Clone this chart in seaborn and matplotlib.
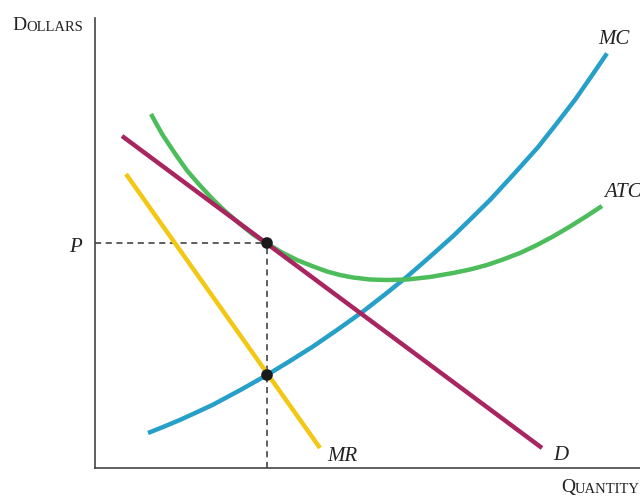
import numpy as np
import pandas as pd
import matplotlib
matplotlib.use('Agg')
import matplotlib.pyplot as plt
import seaborn as sns

# Monopolistic competition: long-run equilibrium (P = ATC at the tangency)
# coordinates are in arbitrary "chart units"

# marginal cost
mc_q = [53, 69, 85, 101, 118, 145, 172, 195, 218, 243, 268, 290,
        312, 335, 358, 376, 395, 419, 443, 461, 480, 496, 512]
mc_cost = [35, 41.4, 48.1, 55.4, 63.3, 77.8, 93, 107, 121.5, 138.7, 156.5, 173.6,
           191.3, 211.3, 231.8, 249.3, 268, 294.1, 320.8, 343.6, 368.2, 391.2, 414.6]

# average total cost
atc_q = [56, 62, 68, 80, 92, 105, 118, 131, 145, 158, 172, 187, 202, 217, 232, 245,
         258, 275, 292, 312, 335, 358, 375, 392, 408, 425, 441, 458, 475, 491, 507]
atc_cost = [354, 343, 332.5, 314.5, 297.5, 282.5, 268.5, 256, 244, 233.5, 224.5, 215.5,
            208, 202, 196.5, 193, 190.5, 188.5, 188, 188.5, 191, 195, 198.5, 203,
            208.5, 215, 222.5, 231.5, 241.5, 251.5, 262]

# demand and marginal revenue (straight lines)
d_q = [27, 447]
d_price = [332, 20]
mr_q = [31, 225]
mr_rev = [294, 20]

# equilibrium
q_star = 172
p_star = 225
mc_star = 93

col_mc = '#26a0c8'
col_atc = '#4dbd5c'
col_d = '#a8255f'
col_mr = '#f3c814'

sns.set_style('white')
plt.rcParams['font.family'] = ['Liberation Serif', 'DejaVu Serif']

fig = plt.figure(figsize=(6.4, 4.98), dpi=100)
ax = fig.add_axes([95 / 640, 30 / 498, 545 / 640, 450 / 498])

line_kw = dict(sort=False, estimator=None, lw=3.2, ax=ax,
               solid_capstyle='butt', solid_joinstyle='round')
sns.lineplot(x=mc_q, y=mc_cost, color=col_mc, **line_kw)
sns.lineplot(x=atc_q, y=atc_cost, color=col_atc, **line_kw)
sns.lineplot(x=d_q, y=d_price, color=col_d, **line_kw)
sns.lineplot(x=mr_q, y=mr_rev, color=col_mr, **line_kw)

# dashed guides
ax.plot([0, q_star], [p_star, p_star], ls=(0, (4, 3)), color='#333333', lw=1.1, zorder=1)
ax.plot([q_star, q_star], [0, p_star], ls=(0, (4, 3)), color='#333333', lw=1.1, zorder=1)

sns.scatterplot(x=[q_star, q_star], y=[p_star, mc_star], color='#1a1a1a', s=70,
                edgecolor='none', zorder=5, ax=ax)

ax.set_xlim(0, 545)
ax.set_ylim(0, 450)
ax.set_xticks([])
ax.set_yticks([])
for s in ['top', 'right']:
    ax.spines[s].set_visible(False)
for s in ['left', 'bottom']:
    ax.spines[s].set_color('#444444')
    ax.spines[s].set_linewidth(1.2)

# curve labels
lab = dict(fontsize=15, style='italic', va='baseline', clip_on=False, color='#222222')
ax.text(503, 424, 'MC', **lab)
ax.text(509, 271, 'ATC', **lab)
ax.text(232, 7, 'MR', **lab)
ax.text(458, 8, 'D', **lab)
ax.text(-13, 216, 'P', ha='right', **lab)

# small-caps axis titles
def small_caps(x, y, word):
    t = ax.text(x, y, word[0], fontsize=14, va='baseline', clip_on=False, color='#222222')
    ax.annotate(word[1:], xy=(1, 0), xycoords=t, fontsize=10.5, va='bottom',
                annotation_clip=False, color='#222222')

small_caps(-83, 438, 'DOLLARS')
small_caps(466, -24, 'QUANTITY')

plt.savefig('out.png', dpi=100)
